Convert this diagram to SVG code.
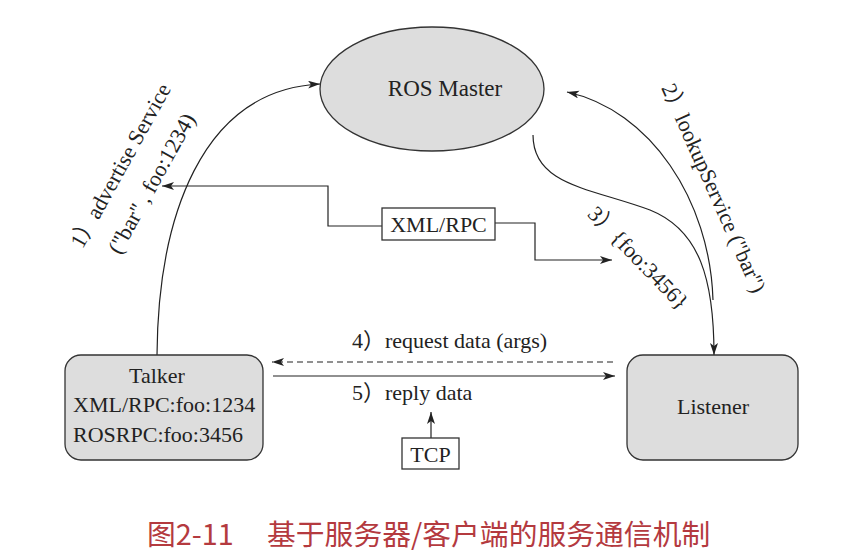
<svg xmlns="http://www.w3.org/2000/svg" width="846" height="555" viewBox="0 0 846 555">
<style>
.node{fill:#dddddd;stroke:#333;stroke-width:1.3}
.box{fill:#fff;stroke:#333;stroke-width:1.3}
.ln{fill:none;stroke:#222;stroke-width:1.2}
.t{font-family:"Liberation Serif","Noto Sans CJK SC",serif;font-size:22px;fill:#222}
.cap{font-family:"Noto Sans CJK SC",sans-serif;font-size:28.8px;fill:#b43a3f}
</style>
<defs>
<marker id="ah" markerUnits="userSpaceOnUse" markerWidth="14" markerHeight="10" refX="12" refY="4" orient="auto">
<path d="M0,0 L12,4 L0,8 L3,4 z" fill="#222"/>
</marker>
</defs>
<rect width="846" height="555" fill="#fff"/>
<g id="connectors">
<path class="ln" d="M157,355 C158,220 200,90 320,84" marker-end="url(#ah)"/>
<path class="ln" d="M713,300 C710,200 650,110 567,92" marker-end="url(#ah)"/>
<path class="ln" d="M533,135 C533,185 590,188 650,210 C700,230 714,280 714,355" marker-end="url(#ah)"/>
<path class="ln" d="M382,226 L328,226 L328,186 L162,186" marker-end="url(#ah)"/>
<path class="ln" d="M495,223 L535,223 L535,260 L612,260" marker-end="url(#ah)"/>
<path class="ln" d="M613,362 L272,362" stroke-dasharray="6,4" marker-end="url(#ah)"/>
<path class="ln" d="M273,376 L615,376" marker-end="url(#ah)"/>
<path class="ln" d="M431,438 L431,412" marker-end="url(#ah)"/>
</g>
<g id="ros-master">
<ellipse class="node" cx="432" cy="89" rx="112" ry="62"/>
<text class="t" x="445" y="96" text-anchor="middle" style="font-size:23px">ROS Master</text>
</g>
<g id="talker">
<rect class="node" x="65" y="355" width="198" height="105" rx="16"/>
<text class="t" x="157" y="383" text-anchor="middle">Talker</text>
<text class="t" x="73" y="412">XML/RPC:foo:1234</text>
<text class="t" x="73" y="442">ROSRPC:foo:3456</text>
</g>
<g id="listener">
<rect class="node" x="627" y="355" width="171" height="105" rx="16"/>
<text class="t" x="713" y="414" text-anchor="middle">Listener</text>
</g>
<g id="xmlrpc">
<rect class="box" x="382" y="208" width="113" height="32"/>
<text class="t" x="438.5" y="232" text-anchor="middle">XML/RPC</text>
</g>
<g id="tcp">
<rect class="box" x="402" y="438" width="57" height="31"/>
<text class="t" x="430.5" y="462" text-anchor="middle">TCP</text>
</g>
<g id="labels">
<text class="t" transform="translate(127,169) rotate(-61)" text-anchor="middle">1）advertise Service</text>
<text class="t" transform="translate(158,187) rotate(-61)" text-anchor="middle">("bar" , foo:1234)</text>
<text class="t" transform="translate(707,191) rotate(66)" text-anchor="middle">2）lookupService ("bar")</text>
<text class="t" transform="translate(633,263) rotate(46)" text-anchor="middle">3）{foo:3456}</text>
<text class="t" x="352" y="348">4）request data (args)</text>
<text class="t" x="352" y="400">5）reply data</text>
</g>
<g id="caption">
<text class="cap" x="147" y="545">图2-11</text>
<text class="cap" x="267" y="545">基于服务器/客户端的服务通信机制</text>
</g>
</svg>
